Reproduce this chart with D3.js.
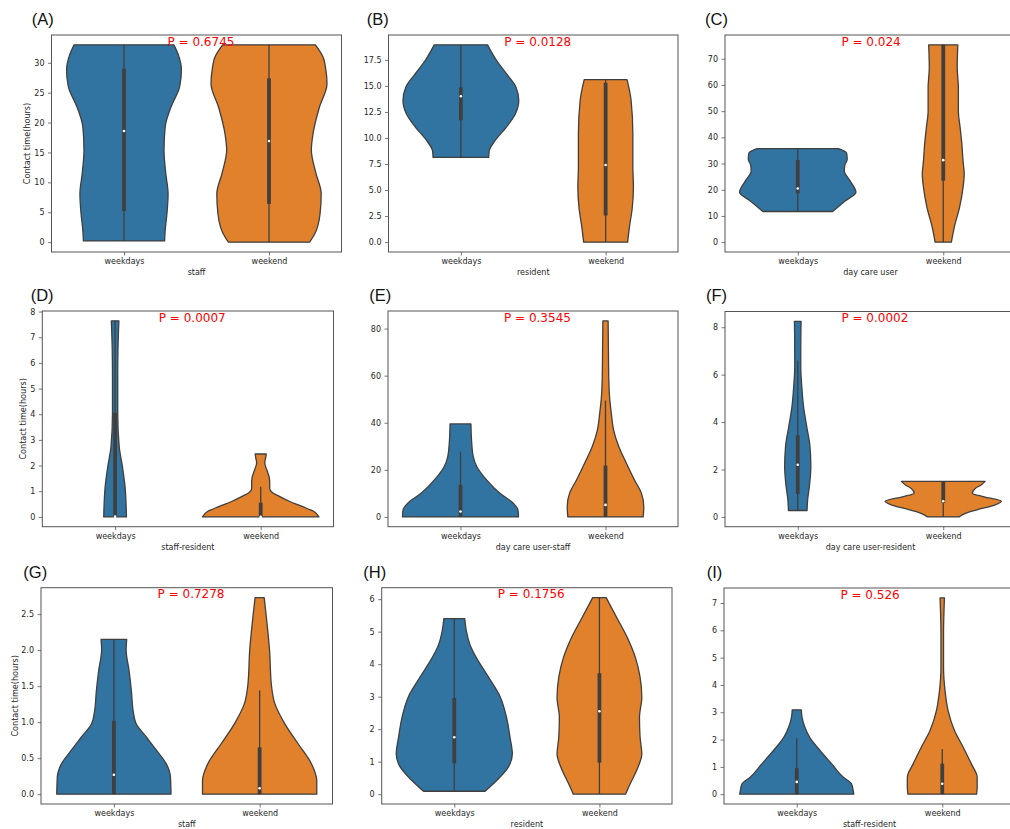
<!DOCTYPE html>
<html><head><meta charset="utf-8">
<script src="https://cdn.jsdelivr.net/npm/d3@7/dist/d3.min.js"></script>
<style>body{margin:0;background:#fff} svg{display:block}</style>
</head><body><svg id="c" width="1010" height="829"></svg>
<script>
// ---------------- data ----------------
const categories = ["weekdays", "weekend"];
const panelLetters = ["(A)", "(B)", "(C)", "(D)", "(E)", "(F)", "(G)", "(H)", "(I)"];
const xLabels = ["staff", "resident", "day care user", "staff-resident", "day care user-staff",
  "day care user-resident", "staff", "resident", "staff-resident"];
const pLabels = ["P = 0.6745", "P = 0.0128", "P = 0.024", "P = 0.0007", "P = 0.3545",
  "P = 0.0002", "P = 0.7278", "P = 0.1756", "P = 0.526"];
const yLabel = "Contact time(hours)";
const yTicks = [
  [0, 5, 10, 15, 20, 25, 30],
  [0, 2.5, 5, 7.5, 10, 12.5, 15, 17.5],
  [0, 10, 20, 30, 40, 50, 60, 70],
  [0, 1, 2, 3, 4, 5, 6, 7, 8],
  [0, 20, 40, 60, 80],
  [0, 2, 4, 6, 8],
  [0, 0.5, 1, 1.5, 2, 2.5],
  [0, 1, 2, 3, 4, 5, 6],
  [0, 1, 2, 3, 4, 5, 6, 7]
];
const yTickFormats = ["d", ".1f", "d", "d", "d", "d", ".1f", "d", "d"];

// violin outlines: [value, relative half-width (1 = widest)]
const violinWeekdays = [
  [[33.0,0.86],[31.5,0.93],[28.8,0.99],[26,0.96],[22.6,0.81],[19.3,0.71],[15.4,0.69],[11.5,0.72],[8.1,0.76],[4.7,0.74],[2.0,0.71],[0.2,0.70]],
  [[18.94,0.46],[17.4,0.62],[16.15,0.79],[14.9,0.95],[13.6,1.0],[12.3,0.94],[11.0,0.78],[9.74,0.59],[8.78,0.49],[8.14,0.48]],
  [[35.7,0.70],[34.0,0.84],[31.5,0.85],[29.5,0.81],[27.2,0.80],[23.4,0.90],[19,1.0],[15.8,0.82],[11.7,0.60]],
  [[7.64,0.065],[6.6,0.05],[5.5,0.045],[4.05,0.045],[2.75,0.07],[1.97,0.125],[1.19,0.17],[0.41,0.19],[0,0.195]],
  [[39.5,0.18],[32.7,0.19],[25.6,0.22],[21.4,0.28],[15.7,0.45],[10,0.68],[5.8,0.91],[3.0,0.99],[0,1.0]],
  [[8.25,0.057],[7.16,0.052],[6.3,0.052],[5.48,0.07],[4.64,0.1],[3.8,0.155],[2.97,0.21],[2.13,0.225],[1.29,0.2],[0.73,0.17],[0.27,0.16]],
  [[2.15,0.22],[2.0,0.21],[1.72,0.26],[1.44,0.3],[1.16,0.33],[0.98,0.38],[0.79,0.56],[0.61,0.73],[0.42,0.9],[0.24,0.97],[0,0.98]],
  [[5.4,0.18],[5.0,0.21],[4.6,0.27],[4.2,0.38],[3.6,0.59],[3.0,0.79],[2.36,0.9],[1.75,0.96],[1.24,1.0],[0.83,0.93],[0.42,0.73],[0.09,0.53]],
  [[3.09,0.078],[2.82,0.09],[2.45,0.14],[2.09,0.22],[1.6,0.4],[1.11,0.6],[0.62,0.8],[0.38,0.94],[0.13,0.97],[0,0.98]]
];
const violinWeekend = [
  [[33.0,0.80],[31.0,0.93],[28.8,0.98],[26.5,1.0],[22.6,0.87],[18.2,0.76],[15.4,0.73],[11.5,0.81],[8.1,0.90],[4.7,0.88],[1.4,0.79],[0,0.70]],
  [[15.6,0.37],[13.6,0.44],[10.4,0.47],[7.2,0.47],[5.26,0.48],[3.3,0.46],[1.4,0.41],[0,0.38]],
  [[75.3,0.25],[66.5,0.24],[58.9,0.26],[50,0.26],[43.7,0.29],[37.3,0.32],[31,0.34],[25.9,0.36],[20.9,0.34],[13.3,0.28],[5.7,0.19],[0,0.14]],
  [[2.45,0.095],[2.3,0.085],[2.1,0.07],[1.8,0.11],[1.5,0.15],[1.3,0.155],[1.1,0.155],[0.95,0.2],[0.8,0.32],[0.6,0.5],[0.4,0.72],[0.2,0.92],[0,1.0]],
  [[83.3,0.045],[72.3,0.05],[58.1,0.057],[51,0.07],[44,0.1],[36.9,0.14],[29.8,0.23],[22.8,0.36],[15.7,0.5],[10,0.62],[4.4,0.66],[0,0.65]],
  [[1.5,0.72],[1.35,0.65],[1.2,0.55],[1.0,0.5],[0.85,0.7],[0.66,1.0],[0.5,0.88],[0.3,0.58],[0.15,0.38],[0,0.27]],
  [[2.73,0.078],[2.46,0.115],[2.0,0.17],[1.53,0.2],[1.26,0.26],[0.98,0.43],[0.7,0.66],[0.42,0.89],[0.19,0.98],[0,0.98]],
  [[6.05,0.115],[5.43,0.3],[4.82,0.48],[4.2,0.62],[3.6,0.70],[2.98,0.73],[2.36,0.69],[1.75,0.7],[1.24,0.73],[0.73,0.64],[0.32,0.53],[0,0.45]],
  [[7.19,0.038],[5.87,0.022],[4.65,0.022],[3.8,0.047],[3.06,0.1],[2.33,0.21],[1.72,0.36],[1.11,0.5],[0.62,0.6],[0.26,0.6],[0,0.59]]
];
// box stats: [whisker low, q1, median, q3, whisker high]
const boxWeekdays = [
  [0.2, 5.2, 18.6, 29.0, 33.0],
  [8.14, 11.7, 14.0, 14.85, 18.94],
  [11.7, 18.6, 20.5, 31.3, 35.7],
  [0, 0, 0.01, 4.05, 7.64],
  [0, 0, 2.3, 13.6, 27.7],
  [0.27, 0.97, 2.2, 3.45, 6.6],
  [0, 0, 0.27, 1.02, 2.15],
  [0.09, 0.95, 1.75, 2.96, 5.4],
  [0, 0, 0.45, 0.95, 2.05]
];
const boxWeekend = [
  [0, 6.4, 16.9, 27.4, 33.0],
  [0, 2.55, 7.4, 15.3, 15.6],
  [0, 23.4, 31.3, 75.3, 75.3],
  [0, 0, 0.0, 0.55, 1.17],
  [0, 0, 5.1, 21.8, 49.4],
  [0, 0.59, 0.66, 1.5, 1.5],
  [0, 0, 0.083, 0.65, 1.44],
  [0, 0.97, 2.55, 3.72, 6.05],
  [0, 0, 0.38, 1.12, 1.65]
];

// ---------------- layout / style ----------------
const layout = [
  {l: 51.5, r: 341.5, t: 35, b: 252, lx: 31.7, ly: 25, ylab: 27},
  {l: 388.5, r: 678, t: 35, b: 252, lx: 366.7, ly: 25},
  {l: 725, r: 1016, t: 35, b: 252, lx: 705, ly: 25},
  {l: 42.3, r: 333.5, t: 311, b: 526.7, lx: 30.7, ly: 300.5, ylab: 22.7},
  {l: 388, r: 678, t: 311, b: 526.7, lx: 369.3, ly: 300.5},
  {l: 725, r: 1016, t: 311.5, b: 526.7, lx: 706, ly: 300.5},
  {l: 41, r: 332.5, t: 587.7, b: 804, lx: 23.3, ly: 577.5, ylab: 15},
  {l: 381.7, r: 672, t: 587.7, b: 804, lx: 363.3, ly: 577.5},
  {l: 724, r: 1015, t: 588, b: 804, lx: 706.7, ly: 577.5}
];
const colors = ["#3274a1", "#e1812c"];
const lineGray = "#3f3f3f";
const frameGray = "#555";
const tickFont = "DejaVu Sans, sans-serif";

const svg = d3.select("#c");

layout.forEach((L, i) => {
  const profiles = [violinWeekdays[i], violinWeekend[i]];
  const boxes = [boxWeekdays[i], boxWeekend[i]];
  const allVals = profiles.flat().map(d => d[0]).concat(boxes.flat());
  const lo = d3.min(allVals), hi = d3.max(allVals), pad = (hi - lo) * 0.05;
  const x = d3.scaleLinear().domain([-0.5, 1.5]).range([L.l, L.r]);
  const y = d3.scaleLinear().domain([lo - pad, hi + pad]).range([L.b, L.t]);
  const unit = x(1) - x(0);
  const w = d3.scaleLinear().domain([0, 1]).range([0, 0.4 * unit]);

  const g = svg.append("g");

  // violins
  profiles.forEach((prof, k) => {
    const cx = x(k);
    const area = d3.area()
      .curve(d3.curveMonotoneY)
      .y(d => y(d[0]))
      .x0(d => cx - w(d[1]))
      .x1(d => cx + w(d[1]));
    g.append("path").attr("d", area(prof))
      .attr("fill", colors[k]).attr("stroke", lineGray).attr("stroke-width", 1.3)
      .attr("stroke-linejoin", "round");
  });

  // inner boxes
  boxes.forEach((b, k) => {
    const cx = x(k);
    g.append("line").attr("x1", cx).attr("x2", cx).attr("y1", y(b[0])).attr("y2", y(b[4]))
      .attr("stroke", lineGray).attr("stroke-width", 1.3);
    g.append("line").attr("x1", cx).attr("x2", cx).attr("y1", y(b[1]) + 0.01).attr("y2", y(b[3]))
      .attr("stroke", lineGray).attr("stroke-width", 3.8);
    g.append("circle").attr("cx", cx).attr("cy", y(b[2])).attr("r", 1.3).attr("fill", "#fff");
  });

  // frame
  g.append("rect").attr("x", L.l).attr("y", L.t).attr("width", L.r - L.l).attr("height", L.b - L.t)
    .attr("fill", "none").attr("stroke", frameGray).attr("stroke-width", 1);

  // axes
  const fmt = d3.format(yTickFormats[i]);
  const ay = g.append("g").attr("transform", `translate(${L.l},0)`)
    .call(d3.axisLeft(y).tickValues(yTicks[i]).tickFormat(fmt).tickSize(3.5).tickPadding(3.5));
  const ax = g.append("g").attr("transform", `translate(0,${L.b})`)
    .call(d3.axisBottom(x).tickValues([0, 1]).tickFormat(d => categories[d]).tickSize(3.5).tickPadding(3));
  [ay, ax].forEach(a => {
    a.select(".domain").remove();
    a.selectAll(".tick line").attr("stroke", frameGray).attr("stroke-width", 0.8);
    a.selectAll(".tick text").attr("fill", "#262626").style("font-family", tickFont).style("font-size", "8px");
  });

  // x label
  g.append("text").attr("x", (L.l + L.r) / 2).attr("y", L.b + 23)
    .attr("text-anchor", "middle").attr("fill", "#262626")
    .style("font-family", tickFont).style("font-size", "8px").text(xLabels[i]);

  // y label
  if (L.ylab !== undefined) {
    g.append("text").attr("transform", `translate(${L.ylab + 3},${(L.t + L.b) / 2}) rotate(-90)`)
      .attr("text-anchor", "middle").attr("fill", "#262626")
      .style("font-family", tickFont).style("font-size", "8.1px").text(yLabel);
  }

  // P value
  g.append("text").attr("x", x(0.3)).attr("y", L.t + 10.5)
    .attr("fill", "#ff0000").style("font-family", tickFont).style("font-size", "12px").text(pLabels[i]);

  // panel letter
  g.append("text").attr("x", L.lx).attr("y", L.ly)
    .attr("fill", "#111").style("font-family", "Liberation Sans, Arial, sans-serif").style("font-size", "16.5px")
    .text(panelLetters[i]);
});
</script>
</body></html>
